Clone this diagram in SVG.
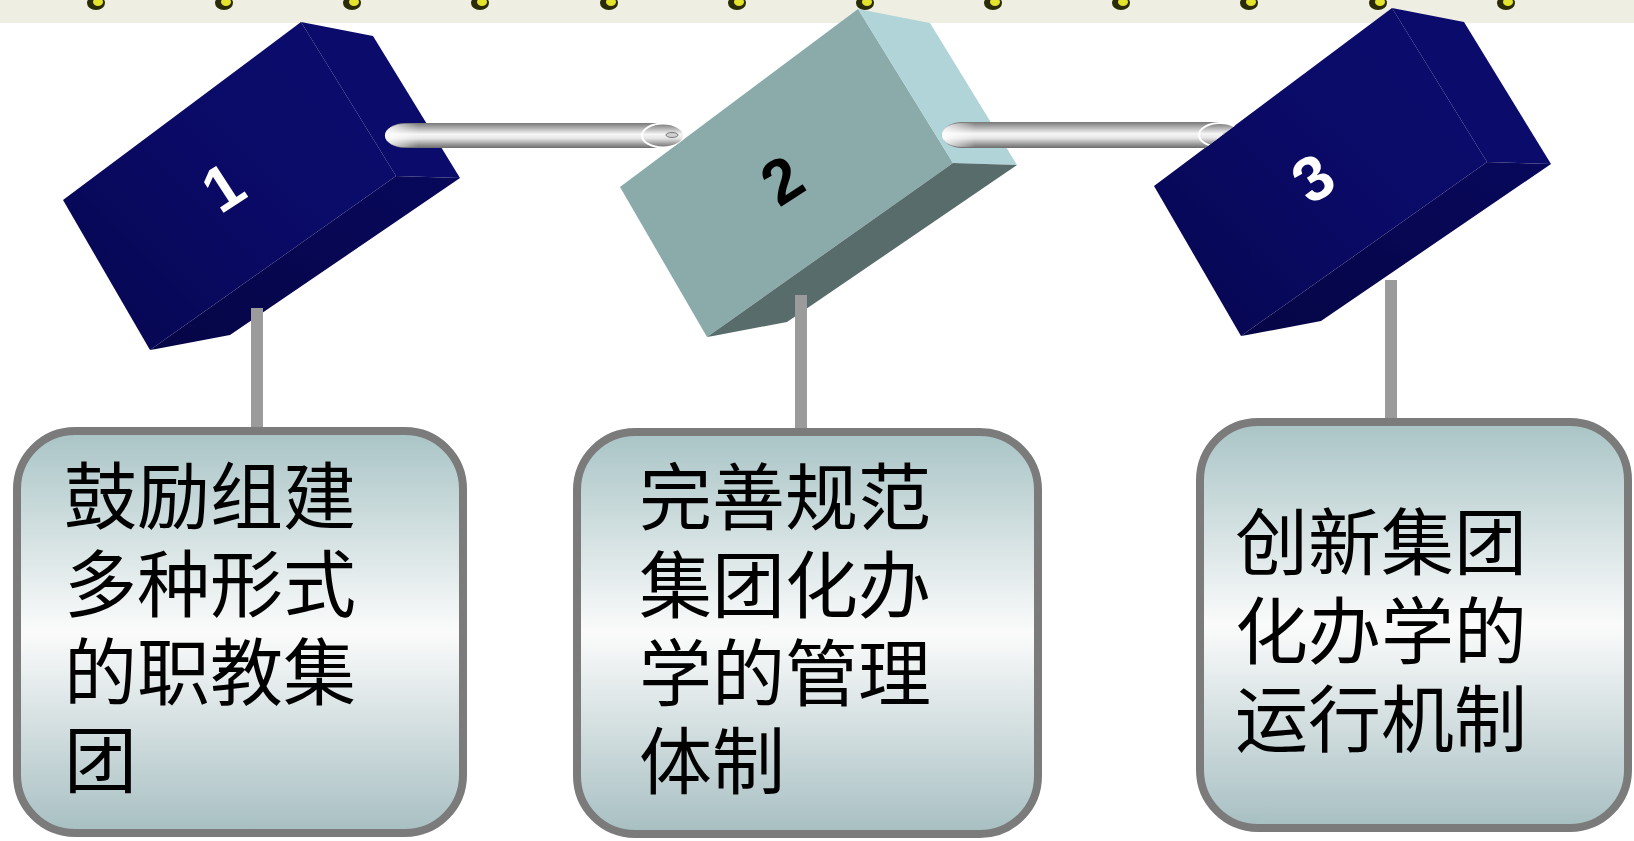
<svg xmlns="http://www.w3.org/2000/svg" width="1634" height="841" viewBox="0 0 1634 841">
<defs>
<style>
.num{font-family:"Liberation Sans",Arial,sans-serif;font-weight:bold;font-size:63px;text-anchor:middle}
.lbl{font-family:"Liberation Serif","Noto Sans CJK SC",serif;font-size:73px;fill:#000}
.bar{fill:#9b9b9b}
.card{stroke:#7b7b7b;stroke-width:8;fill:url(#cardG)}
.dotO{fill:#2b2b08}
.dotI{fill:#e4e42c}
</style>
<linearGradient id="cardG" x1="0" y1="0" x2="0" y2="1">
<stop offset="0" stop-color="#a9c4c6"/>
<stop offset="0.5" stop-color="#fbfbfb"/>
<stop offset="1" stop-color="#a7bfc2"/>
</linearGradient>
<linearGradient id="navyFront" x1="0" y1="1" x2="1" y2="0">
<stop offset="0" stop-color="#06064f"/>
<stop offset="0.5" stop-color="#0a0a66"/>
<stop offset="1" stop-color="#0c0c6f"/>
</linearGradient>
<linearGradient id="navyBottom" x1="0" y1="1" x2="1" y2="0">
<stop offset="0" stop-color="#050546"/>
<stop offset="1" stop-color="#08085c"/>
</linearGradient>
<linearGradient id="tubeG" x1="0" y1="0" x2="0" y2="1">
<stop offset="0" stop-color="#777"/>
<stop offset="0.15" stop-color="#a2a2a2"/>
<stop offset="0.45" stop-color="#f6f6f6"/>
<stop offset="0.62" stop-color="#e6e6e6"/>
<stop offset="0.85" stop-color="#9a9a9a"/>
<stop offset="1" stop-color="#6c6c6c"/>
</linearGradient>
<linearGradient id="capG" x1="0" y1="0" x2="1" y2="0">
<stop offset="0" stop-color="#fff" stop-opacity="0.85"/>
<stop offset="1" stop-color="#fff" stop-opacity="0"/>
</linearGradient>
<clipPath id="clip1"><polygon points="0,0 870,0 469,300 0,300"/></clipPath>
<clipPath id="clip2"><polygon points="900,0 1403,0 1002,300 900,300"/></clipPath>
</defs>
<rect x="0" y="0" width="1634" height="841" fill="#fff"/>
<g id="banner">
<rect x="0" y="0" width="1634" height="23" fill="#efeee2"/>
<g>
<ellipse class="dotO" cx="96" cy="3" rx="9" ry="7"/><ellipse class="dotI" cx="98" cy="2" rx="5" ry="4"/>
<ellipse class="dotO" cx="224" cy="3" rx="9" ry="7"/><ellipse class="dotI" cx="226" cy="2" rx="5" ry="4"/>
<ellipse class="dotO" cx="352" cy="3" rx="9" ry="7"/><ellipse class="dotI" cx="354" cy="2" rx="5" ry="4"/>
<ellipse class="dotO" cx="480" cy="3" rx="9" ry="7"/><ellipse class="dotI" cx="482" cy="2" rx="5" ry="4"/>
<ellipse class="dotO" cx="609" cy="3" rx="9" ry="7"/><ellipse class="dotI" cx="611" cy="2" rx="5" ry="4"/>
<ellipse class="dotO" cx="737" cy="3" rx="9" ry="7"/><ellipse class="dotI" cx="739" cy="2" rx="5" ry="4"/>
<ellipse class="dotO" cx="865" cy="3" rx="9" ry="7"/><ellipse class="dotI" cx="867" cy="2" rx="5" ry="4"/>
<ellipse class="dotO" cx="993" cy="3" rx="9" ry="7"/><ellipse class="dotI" cx="995" cy="2" rx="5" ry="4"/>
<ellipse class="dotO" cx="1121" cy="3" rx="9" ry="7"/><ellipse class="dotI" cx="1123" cy="2" rx="5" ry="4"/>
<ellipse class="dotO" cx="1249" cy="3" rx="9" ry="7"/><ellipse class="dotI" cx="1251" cy="2" rx="5" ry="4"/>
<ellipse class="dotO" cx="1378" cy="3" rx="9" ry="7"/><ellipse class="dotI" cx="1380" cy="2" rx="5" ry="4"/>
<ellipse class="dotO" cx="1506" cy="3" rx="9" ry="7"/><ellipse class="dotI" cx="1508" cy="2" rx="5" ry="4"/>
</g>
</g>
<g id="block-1">
<g transform="translate(-557,13)">
<polygon points="620,187 858,9 953,163 707,337" fill="url(#navyFront)"/>
<polygon points="858,9 930,23 1017,165 953,163" fill="#0b0b6c"/>
<polygon points="953,163 1017,165 787,322 713,336 707,337" fill="url(#navyBottom)"/>
</g>
<text class="num" fill="#fff" transform="translate(223,187) rotate(-33)" x="0" y="22">1</text>
</g>
<g id="block-2">
<polygon points="620,187 858,9 953,163 707,337" fill="#8babab"/>
<polygon points="858,9 930,23 1017,165 953,163" fill="#b0d4d8"/>
<polygon points="953,163 1017,165 787,322 713,336 707,337" fill="#586c6c"/>
<text class="num" fill="#000" transform="translate(782,180) rotate(-33)" x="0" y="22">2</text>
</g>
<g id="block-3">
<g transform="translate(534,-1)">
<polygon points="620,187 858,9 953,163 707,337" fill="url(#navyFront)"/>
<polygon points="858,9 930,23 1017,165 953,163" fill="#0b0b6c"/>
<polygon points="953,163 1017,165 787,322 713,336 707,337" fill="url(#navyBottom)"/>
</g>
<text class="num" fill="#fff" transform="translate(1313,178) rotate(-33)" x="0" y="22">3</text>
</g>
<g id="connectors">
<g clip-path="url(#clip1)">
<path d="M405,123 H663 V148 H405 A20 12.5 0 0 1 405,123 Z" fill="url(#tubeG)"/>
<path d="M405,124 A20 11.5 0 0 0 405,147 H418 V124 Z" fill="url(#capG)"/>
<ellipse cx="663" cy="135.5" rx="21" ry="12" fill="url(#tubeG)" stroke="#fff" stroke-width="2"/>
<ellipse cx="672" cy="135" rx="6" ry="2.5" fill="#d0d0d0" stroke="#777" stroke-width="1"/>
</g>
<g clip-path="url(#clip2)">
<path d="M962,122 H1220 V148 H962 A20 13 0 0 1 962,122 Z" fill="url(#tubeG)"/>
<path d="M962,123 A20 12 0 0 0 962,147 H975 V123 Z" fill="url(#capG)"/>
<ellipse cx="1220" cy="135" rx="21" ry="12" fill="url(#tubeG)" stroke="#fff" stroke-width="2"/>
<ellipse cx="1229" cy="135" rx="6" ry="2.5" fill="#d0d0d0" stroke="#777" stroke-width="1"/>
</g>
<rect class="bar" x="251" y="308" width="12" height="124"/>
<rect class="bar" x="795" y="295" width="12" height="137"/>
<rect class="bar" x="1385" y="280" width="12" height="142"/>
</g>
<g id="card-1">
<rect class="card" x="17" y="431" width="446" height="402" rx="58" ry="58"/>
<text class="lbl" x="64" y="523">鼓励组建</text>
<text class="lbl" x="64" y="611">多种形式</text>
<text class="lbl" x="64" y="699">的职教集</text>
<text class="lbl" x="64" y="787">团</text>
</g>
<g id="card-2">
<rect class="card" x="577" y="432" width="461" height="402" rx="58" ry="58"/>
<text class="lbl" x="639" y="524">完善规范</text>
<text class="lbl" x="639" y="612">集团化办</text>
<text class="lbl" x="639" y="700">学的管理</text>
<text class="lbl" x="639" y="788">体制</text>
</g>
<g id="card-3">
<rect class="card" x="1200" y="422" width="428" height="406" rx="58" ry="58"/>
<text class="lbl" x="1235" y="569">创新集团</text>
<text class="lbl" x="1235" y="658">化办学的</text>
<text class="lbl" x="1235" y="746">运行机制</text>
</g>
</svg>
